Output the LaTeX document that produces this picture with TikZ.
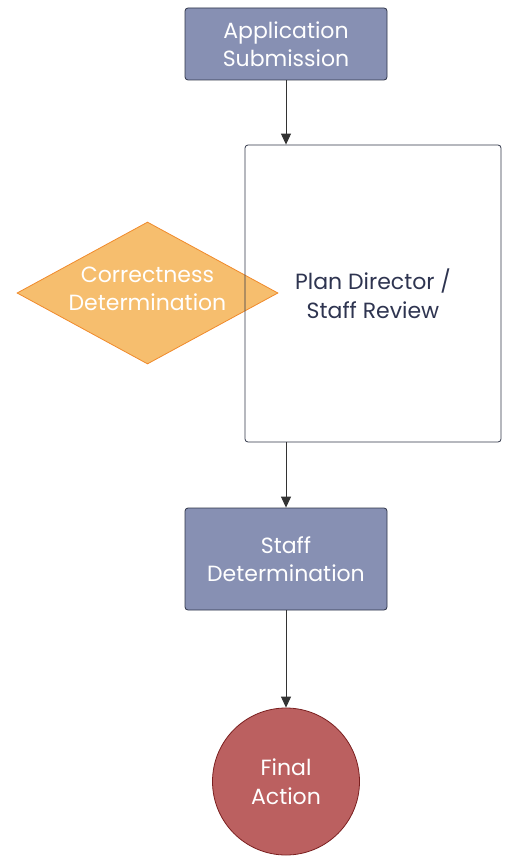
\documentclass[tikz,border=0pt]{standalone}
\usepackage{fontspec}
\setmainfont{Poppins}
\usetikzlibrary{shapes.geometric,arrows.meta}
\definecolor{boxfill}{HTML}{8790B3}
\definecolor{boxline}{HTML}{2F3548}
\definecolor{dfill}{HTML}{F6BE6E}
\definecolor{dline}{HTML}{F08A2B}
\definecolor{cfill}{HTML}{BB6060}
\definecolor{cline}{HTML}{7A1F1F}
\definecolor{txt}{HTML}{2E3450}
\definecolor{arr}{HTML}{333333}
\begin{document}
\begin{tikzpicture}[x=1pt,y=-1pt,
  every node/.style={font=\fontsize{22}{28.5}\selectfont, align=center, inner sep=0pt},
  bluebox/.style={draw=boxline, fill=boxfill, rounded corners=3pt, minimum width=202pt, text=white, line width=0.8pt},
  decision/.style={diamond, draw=dline, fill=dfill, aspect=1.84, text=white, line width=0.8pt, minimum width=261pt, minimum height=142pt},
  reviewbox/.style={draw=boxline, rounded corners=3pt, minimum width=256pt, minimum height=297pt, text=txt, line width=0.8pt},
  terminal/.style={circle, draw=cline, fill=cfill, minimum size=147pt, text=white, line width=0.8pt},
  flow/.style={draw=arr, line width=1pt, -{Triangle[length=11pt,width=10pt]}}]
\useasboundingbox (0,0) rectangle (508,856);
\node[bluebox, minimum height=72pt] (app) at (286,44) {Application\\Submission};
\node[decision] (corr) at (147.5,293) {};
\node[text=white] at (147.5,289) {Correctness\\Determination};
\node[reviewbox] (rev) at (373,293.5) {Plan Director /\\Staff Review};
\node[bluebox, minimum height=102pt] (staff) at (286,559) {Staff\\Determination};
\node[terminal] (final) at (286,781.5) {Final\\Action};
\draw[flow] (app.south) -- (app.south |- rev.north);
\draw[flow] (rev.south -| staff.north) -- (staff.north);
\draw[flow] (staff.south) -- (final.north);
\end{tikzpicture}
\end{document}
